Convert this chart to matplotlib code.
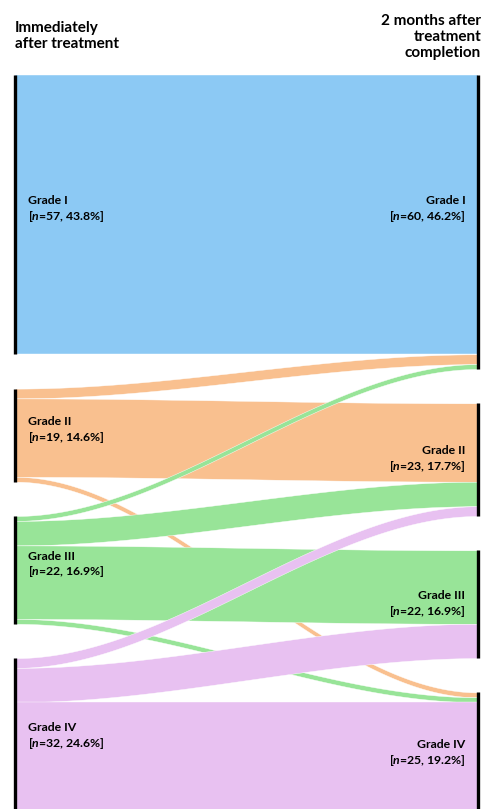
import numpy as np
import matplotlib.pyplot as plt

plt.rcParams['font.family'] = ['Lato', 'DejaVu Sans']
plt.rcParams['mathtext.fontset'] = 'custom'
plt.rcParams['mathtext.it'] = 'Lato:bold:italic'
plt.rcParams['mathtext.rm'] = 'Lato:bold'

grades = ["Grade I", "Grade II", "Grade III", "Grade IV"]
colors = ["#8cc9f4", "#f9c08f", "#98e498", "#e8c1f1"]
left_n = [57, 19, 22, 32]
right_n = [60, 23, 22, 25]
# (from, to, patients)
flows = [(0, 0, 57),
         (1, 0, 2), (1, 1, 16), (1, 3, 1),
         (2, 0, 1), (2, 1, 5), (2, 2, 15), (2, 3, 1),
         (3, 1, 2), (3, 2, 7), (3, 3, 23)]
total = sum(left_n)
gap = 7.0

def node_tops(sizes):
    tops = []
    y = 0.0
    for s in sizes:
        tops.append(y)
        y += s + gap
    return tops

ltop = node_tops(left_n)
rtop = node_tops(right_n)
ymax = total + gap * (len(grades) - 1)

px = 4.9  # pixels per patient
fig = plt.figure(figsize=(4.82, 8.09), dpi=100)
h = ymax * px / 809
ax = fig.add_axes([15 / 482, 1 - 75 / 809 - h, 463 / 482, h])
ax.set_xlim(0, 1)
ax.set_ylim(ymax, 0)
ax.axis('off')

# ribbons: stack within source by target order, within target by source order
lpos = list(ltop)
rpos = list(rtop)
t = np.linspace(0, 1, 200)
s = 3 * t**2 - 2 * t**3
for src, tgt, v in flows:
    y0 = lpos[src]
    y1 = rpos[tgt]
    lpos[src] += v
    rpos[tgt] += v
    top = y0 + (y1 - y0) * s
    ax.fill_between(t, top, top + v, color=colors[src], lw=0.3, edgecolor='white')

# label nudges (patients)
lshift = [-1, -1, -1, 0]
rshift = [-2.5, 0, 0, 0]

# node bars
for i in range(len(grades)):
    ax.plot([0, 0], [ltop[i], ltop[i] + left_n[i]], color='black', lw=2.4,
            solid_capstyle='butt', clip_on=False)
    ax.plot([1, 1], [rtop[i], rtop[i] + right_n[i]], color='black', lw=2.4,
            solid_capstyle='butt', clip_on=False)
    lp = 100 * left_n[i] / total
    rp = 100 * right_n[i] / total
    ax.text(0.028, ltop[i] + left_n[i] / 2 + lshift[i],
            grades[i] + "\n[$\\mathit{n}$=%d, %.1f%%]" % (left_n[i], lp),
            ha='left', va='center', fontsize=8.8, fontweight='bold', linespacing=1.25)
    ax.text(0.973, rtop[i] + right_n[i] / 2 + rshift[i],
            grades[i] + "\n[$\\mathit{n}$=%d, %.1f%%]" % (right_n[i], rp),
            ha='right', va='center', fontsize=8.8, fontweight='bold',
            multialignment='right', linespacing=1.25)

fig.text(15 / 482, 1 - 21 / 809, "Immediately\nafter treatment", ha='left', va='top',
         fontsize=11, fontweight='bold', linespacing=1.2)
fig.text(481 / 482, 1 - 14 / 809, "2 months after\ntreatment\ncompletion", ha='right', va='top',
         fontsize=11, fontweight='bold', linespacing=1.2, multialignment='right')

fig.savefig("out.png", dpi=100)
